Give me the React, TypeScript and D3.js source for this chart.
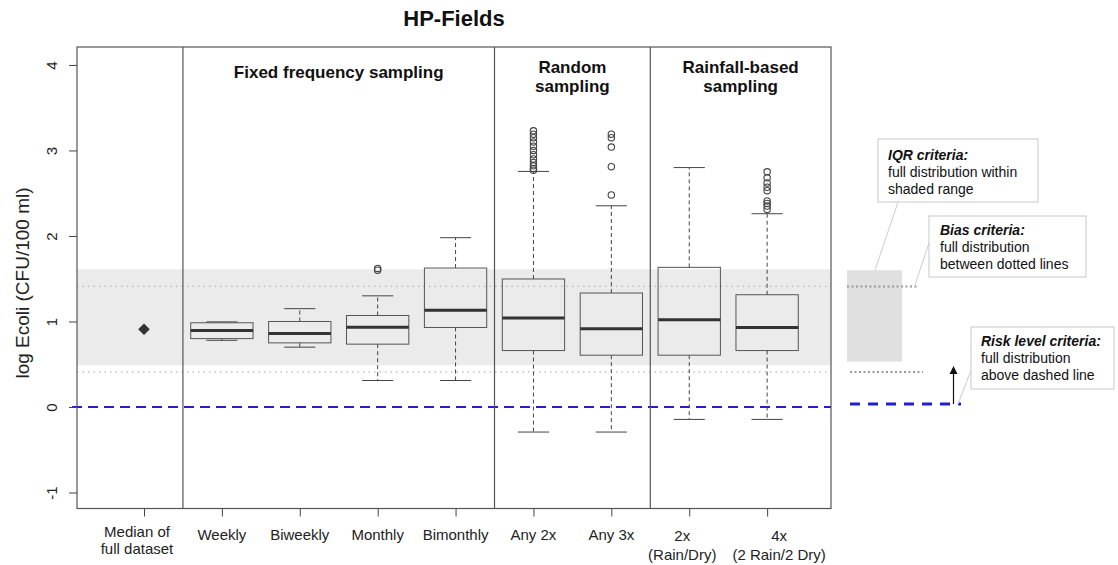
import React, { useRef, useEffect } from "react";
import * as d3 from "d3";

// categories (x = 1..9)
const labels = [
  ["Median of", "full dataset"],
  ["Weekly"],
  ["Biweekly"],
  ["Monthly"],
  ["Bimonthly"],
  ["Any 2x"],
  ["Any 3x"],
  ["2x", "(Rain/Dry)"],
  ["4x", "(2 Rain/2 Dry)"],
];
const medianFull = 0.91;

// box stats for categories 2..9
const q1 = [0.8, 0.75, 0.735, 0.93, 0.66, 0.606, 0.606, 0.66];
const med = [0.895, 0.86, 0.934, 1.13, 1.04, 0.914, 1.02, 0.93];
const q3 = [0.985, 1.0, 1.07, 1.625, 1.497, 1.333, 1.633, 1.313];
const whiskLo = [0.78, 0.7, 0.31, 0.31, -0.293, -0.293, -0.145, -0.145];
const whiskHi = [0.995, 1.15, 1.3, 1.98, 2.755, 2.353, 2.8, 2.26];
const outliers = [
  [],
  [],
  [1.6, 1.62],
  [],
  [2.77, 2.79, 2.82, 2.86, 2.9, 2.95, 3.0, 3.05, 3.1, 3.15, 3.19, 3.23],
  [2.48, 2.81, 3.04, 3.15, 3.19],
  [],
  [2.31, 2.35, 2.38, 2.41, 2.53, 2.57, 2.62, 2.68, 2.75],
];

const groups = [
  { from: 1.5, to: 5.5, lines: ["Fixed frequency sampling"] },
  { from: 5.5, to: 7.5, lines: ["Random", "sampling"] },
  { from: 7.5, to: 9.82, lines: ["Rainfall-based", "sampling"] },
];
const dividers = [1.5, 5.5, 7.5];
const yTicks = [-1, 0, 1, 2, 3, 4];

const iqrBand = [0.49, 1.61];
const biasLines = [0.41, 1.41];
const riskLevel = 0;

function Chart() {
  const ref = useRef(null);
  useEffect(() => {
    const svg = d3.select(ref.current);
    svg.selectAll("*").remove();
    const font = "Liberation Sans, Arial, sans-serif";
    const left = 77, right = 831, top = 47, bottom = 508.5;

    const x = d3.scaleLinear().domain([0.14, 9.82]).range([left, right]);
    const y = d3.scaleLinear().domain([-1.187, 4.21]).range([bottom, top]);

    svg.append("rect").attr("width", 1118).attr("height", 565).attr("fill", "#fff");

    // shaded IQR band
    svg.append("rect")
      .attr("x", left).attr("width", right - left)
      .attr("y", y(iqrBand[1])).attr("height", y(iqrBand[0]) - y(iqrBand[1]))
      .attr("fill", "#ebebeb");

    // bias dotted lines
    biasLines.forEach((v) => {
      svg.append("line")
        .attr("x1", left).attr("x2", right).attr("y1", y(v)).attr("y2", y(v))
        .attr("stroke", "#b5b5b5").attr("stroke-width", 1.2)
        .attr("stroke-dasharray", "1.5,4");
    });

    // risk level blue dashed line
    svg.append("line")
      .attr("x1", left - 5).attr("x2", right).attr("y1", y(riskLevel)).attr("y2", y(riskLevel))
      .attr("stroke", "#1f1fd6").attr("stroke-width", 2)
      .attr("stroke-dasharray", "10,6");

    // median of full dataset diamond
    svg.append("path")
      .attr("d", d3.symbol(d3.symbolDiamond2, 85)())
      .attr("transform", `translate(${x(1)},${y(medianFull)})`)
      .attr("fill", "#333");

    // boxes
    const bw = x(1.4) - x(1);
    const cap = bw / 2;
    q1.forEach((_, k) => {
      const cx = x(k + 2);
      const g = svg.append("g").attr("stroke", "#444").attr("fill", "none");
      g.append("line").attr("x1", cx).attr("x2", cx).attr("y1", y(q3[k])).attr("y2", y(whiskHi[k]))
        .attr("stroke-dasharray", "4,3");
      g.append("line").attr("x1", cx).attr("x2", cx).attr("y1", y(q1[k])).attr("y2", y(whiskLo[k]))
        .attr("stroke-dasharray", "4,3");
      g.append("line").attr("x1", cx - cap).attr("x2", cx + cap).attr("y1", y(whiskHi[k])).attr("y2", y(whiskHi[k]));
      g.append("line").attr("x1", cx - cap).attr("x2", cx + cap).attr("y1", y(whiskLo[k])).attr("y2", y(whiskLo[k]));
      g.append("rect").attr("x", cx - bw).attr("width", 2 * bw)
        .attr("y", y(q3[k])).attr("height", y(q1[k]) - y(q3[k]))
        .attr("stroke", "#555");
      g.append("line").attr("x1", cx - bw).attr("x2", cx + bw).attr("y1", y(med[k])).attr("y2", y(med[k]))
        .attr("stroke", "#333").attr("stroke-width", 3);
      outliers[k].forEach((o) => {
        g.append("circle").attr("cx", cx).attr("cy", y(o)).attr("r", 3.2)
          .attr("stroke", "#444").attr("stroke-width", 1.1);
      });
    });

    // dividers and frame
    dividers.forEach((d) => {
      svg.append("line").attr("x1", x(d)).attr("x2", x(d)).attr("y1", top).attr("y2", bottom)
        .attr("stroke", "#555").attr("stroke-width", 1.2);
    });
    svg.append("rect").attr("x", left).attr("y", top).attr("width", right - left).attr("height", bottom - top)
      .attr("fill", "none").attr("stroke", "#555").attr("stroke-width", 1.2);

    // group titles
    groups.forEach((gr) => {
      const cx = (x(gr.from) + x(gr.to)) / 2;
      const t = svg.append("text").attr("text-anchor", "middle").attr("font-family", font)
        .attr("font-weight", "bold").attr("font-size", 17).attr("fill", "#111");
      gr.lines.forEach((l, i) => {
        t.append("tspan").attr("x", cx).attr("y", (gr.lines.length === 1 ? 78 : 73) + i * 19).text(l);
      });
    });

    // title
    svg.append("text").attr("x", (left + right) / 2).attr("y", 26).attr("text-anchor", "middle")
      .attr("font-family", font).attr("font-weight", "bold").attr("font-size", 22).attr("fill", "#111")
      .text("HP-Fields");

    // y axis
    const ya = svg.append("g").attr("transform", `translate(${left},0)`)
      .call(d3.axisLeft(y).tickValues(yTicks).tickSize(8).tickFormat((d) => String(d)));
    ya.select(".domain").remove();
    ya.selectAll("line").attr("stroke", "#444");
    ya.selectAll("text").attr("font-family", font).attr("font-size", 15).attr("fill", "#222")
      .attr("transform", "rotate(-90)")
      .attr("x", 0).attr("y", -20).attr("dy", 0).attr("text-anchor", "middle");
    svg.append("text").attr("transform", `translate(29,283) rotate(-90)`).attr("text-anchor", "middle")
      .attr("font-family", font).attr("font-size", 19).attr("fill", "#222")
      .text("log Ecoli (CFU/100 ml)");

    // x axis
    const xa = svg.append("g").attr("transform", `translate(0,${bottom})`)
      .call(d3.axisBottom(x).tickValues(d3.range(1, 10)).tickSize(8).tickFormat(() => ""));
    xa.select(".domain").remove();
    xa.selectAll("line").attr("stroke", "#444");
    // small horizontal nudges of some labels, as in the original layout
    const nudge = [-7, 0, 0, 0, 0, 0, 0, -7, 12];
    labels.forEach((ls, i) => {
      const t = svg.append("text").attr("text-anchor", "middle").attr("font-family", font)
        .attr("font-size", 15).attr("fill", "#222");
      const y0 = ls.length === 1 ? 540 : i === 0 ? 537 : 541;
      const dy = i === 0 ? 17 : 19;
      ls.forEach((l, j) => {
        t.append("tspan").attr("x", x(i + 1) + nudge[i]).attr("y", y0 + j * dy).text(l);
      });
    });

    // right-hand legend / annotations
    const ann = svg.append("g");
    ann.append("rect").attr("x", 847).attr("width", 55).attr("y", y(1.6)).attr("height", y(0.53) - y(1.6))
      .attr("fill", "#e0e0e0");
    ann.append("line").attr("x1", 847).attr("x2", 917).attr("y1", y(biasLines[1])).attr("y2", y(biasLines[1]))
      .attr("stroke", "#999").attr("stroke-width", 2).attr("stroke-dasharray", "2,2.5");
    ann.append("line").attr("x1", 850).attr("x2", 923).attr("y1", y(biasLines[0])).attr("y2", y(biasLines[0]))
      .attr("stroke", "#999").attr("stroke-width", 2).attr("stroke-dasharray", "2,2.5");
    ann.append("line").attr("x1", 850).attr("x2", 961).attr("y1", y(0.035)).attr("y2", y(0.035))
      .attr("stroke", "#1f1fd6").attr("stroke-width", 3).attr("stroke-dasharray", "10,8");
    // arrow
    ann.append("line").attr("x1", 953.5).attr("x2", 953.5).attr("y1", y(0.035)).attr("y2", 373)
      .attr("stroke", "#111").attr("stroke-width", 1.2);
    ann.append("path").attr("d", "M949.5,374 L953.5,366 L957.5,374 Z").attr("fill", "#111");

    // connector lines
    ann.append("line").attr("x1", 898).attr("y1", 202).attr("x2", 875).attr("y2", 270).attr("stroke", "#ccc");
    ann.append("line").attr("x1", 929).attr("y1", 243).attr("x2", 915).attr("y2", 285).attr("stroke", "#ccc");
    ann.append("line").attr("x1", 977).attr("y1", 355).attr("x2", 958).attr("y2", 404).attr("stroke", "#ccc");

    const boxes = [
      { x: 878, y: 139, w: 160, h: 63, tx: 888, ty: [160, 177, 194], lines: ["IQR criteria:", "full distribution within", "shaded range"] },
      { x: 929, y: 216, w: 157, h: 61, tx: 940, ty: [235, 252, 269], lines: ["Bias criteria:", "full distribution", "between dotted lines"] },
      { x: 971, y: 327, w: 143, h: 62, tx: 981, ty: [346, 363, 380], lines: ["Risk level criteria:", "full distribution", "above dashed line"] },
    ];
    boxes.forEach((b) => {
      ann.append("rect").attr("x", b.x).attr("y", b.y).attr("width", b.w).attr("height", b.h)
        .attr("fill", "#fff").attr("stroke", "#c8c8c8");
      b.lines.forEach((l, i) => {
        ann.append("text").attr("x", b.tx).attr("y", b.ty[i]).attr("font-family", font)
          .attr("font-size", 14).attr("fill", "#111")
          .attr("font-weight", i === 0 ? "bold" : "normal")
          .attr("font-style", i === 0 ? "italic" : "normal")
          .text(l);
      });
    });
  }, []);
  return <svg ref={ref} width={1118} height={565} style={{ display: "block" }} />;
}

export default function App() {
  return (
    <div style={{ position: "absolute", left: 0, top: 0 }}>
      <Chart />
    </div>
  );
}
